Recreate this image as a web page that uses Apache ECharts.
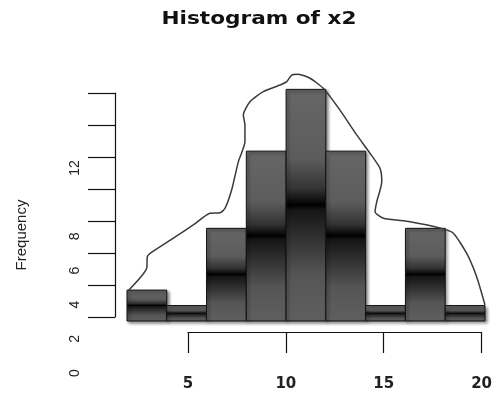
<!DOCTYPE html>
<html>
<head>
<meta charset="utf-8">
<script src="https://cdn.jsdelivr.net/npm/echarts@6/dist/echarts.min.js"></script>
<style>
  html, body { margin: 0; padding: 0; background: #fff; }
  #chart { width: 495px; height: 398px; }
</style>
</head>
<body>
<div id="chart"></div>
<script>
// Histogram bins (break points) and counts per bin
const binEdges = [2, 4, 6, 8, 10, 12, 14, 16, 18, 20];
const counts = [2, 1, 6, 11, 15, 11, 1, 6, 1];

// Overlaid density curve, in frequency units
const curveX = [2.02, 2.99, 3.02, 3.16, 4.33, 5.33, 6.17, 6.68, 6.93, 7.26, 7.60, 7.93, 7.93, 7.85,
  8.18, 8.85, 9.69, 10.03, 10.28, 10.61, 11.20, 11.87, 12.70, 13.55, 14.22, 14.72, 14.81,
  14.56, 14.47, 14.89, 16.23, 17.82, 18.41, 19.08, 19.58, 20.0];
const curveY = [1.90, 3.41, 4.16, 4.38, 5.36, 6.22, 6.98, 7.01, 7.30, 8.48, 10.32, 11.61, 12.69, 13.34,
  14.20, 14.85, 15.28, 15.50, 15.93, 15.98, 15.72, 15.07, 13.67, 12.05, 10.86, 9.89, 9.02,
  7.73, 7.08, 6.65, 6.43, 6.00, 5.68, 4.38, 2.87, 1.04];

// Axis ticks and labels
const xTickValues = [5, 10, 15, 20];
const yTickValues = [0, 2, 4, 6, 8, 10, 12, 14];
const yLabelValues = [0, 2, 4, 6, 8, 12];

const titleText = 'Histogram of x2';
const yAxisTitle = 'Frequency';

const binData = counts.map((c, i) => [binEdges[i], binEdges[i + 1], c]);
const curveData = curveX.map((x, i) => [x, curveY[i]]);

const chart = echarts.init(document.getElementById('chart'), null, { renderer: 'canvas' });

const barFill = new echarts.graphic.LinearGradient(0, 0, 0, 1, [
  { offset: 0, color: '#666666' },
  { offset: 0.3, color: '#5c5c5c' },
  { offset: 0.43, color: '#333333' },
  { offset: 0.5, color: '#000000' },
  { offset: 0.52, color: '#151515' },
  { offset: 0.8, color: '#555555' },
  { offset: 1, color: '#5f5f5f' }
]);

const option = {
  animation: false,
  backgroundColor: '#ffffff',
  graphic: [
    {
      // wide bold heading
      type: 'text',
      x: 259,
      y: 19,
      scaleX: 1.2,
      style: {
        text: titleText,
        fontFamily: 'DejaVu Sans',
        fontWeight: 'bold',
        fontSize: 18,
        fill: '#111',
        textAlign: 'center',
        textVerticalAlign: 'middle'
      }
    },
    {
      type: 'text',
      x: 22,
      y: 235,
      rotation: Math.PI / 2,
      style: {
        text: yAxisTitle,
        fontFamily: 'Liberation Sans',
        fontSize: 15,
        fill: '#222',
        textAlign: 'center',
        textVerticalAlign: 'middle'
      }
    }
  ],
  grid: [
    { left: 127, right: 10, top: 58.5, bottom: 77 },   // histogram area
    { left: 188, right: 10, top: 300, bottom: 66 },    // x axis
    { left: 115, right: 300, top: 93, bottom: 81 },    // y axis line and ticks
    { left: 115, right: 300, top: 168, bottom: 25 }    // y axis labels
  ],
  xAxis: [
    { gridIndex: 0, type: 'value', min: 2, max: 20, show: false },
    {
      gridIndex: 1, type: 'value', min: 5, max: 20, interval: 5,
      axisLine: { lineStyle: { color: '#111', width: 1.2 } },
      axisTick: { length: 21, lineStyle: { color: '#111', width: 1.2 } },
      axisLabel: {
        margin: 45, color: '#222', fontFamily: 'DejaVu Sans', fontWeight: 'bold', fontSize: 15,
        customValues: xTickValues
      },
      splitLine: { show: false }
    },
    { gridIndex: 2, type: 'value', show: false },
    { gridIndex: 3, type: 'value', show: false }
  ],
  yAxis: [
    { gridIndex: 0, type: 'value', min: 0, max: 17, show: false },
    { gridIndex: 1, type: 'value', show: false },
    {
      gridIndex: 2, type: 'value', min: 0, max: 14, interval: 2,
      axisLine: { show: true, lineStyle: { color: '#111', width: 1.2 } },
      axisTick: { show: true, length: 27, lineStyle: { color: '#111', width: 1.2 }, customValues: yTickValues },
      axisLabel: { show: false },
      splitLine: { show: false }
    },
    {
      gridIndex: 3, type: 'value', min: 0, max: 12, interval: 2,
      axisLine: { show: false },
      axisTick: { show: false },
      axisLabel: {
        rotate: 90, margin: 33, color: '#222', fontFamily: 'Liberation Sans', fontSize: 14,
        customValues: yLabelValues,
        formatter: v => (yLabelValues.indexOf(v) >= 0 ? String(v) : '')
      },
      splitLine: { show: false }
    }
  ],
  series: [
    {
      type: 'custom',
      xAxisIndex: 0,
      yAxisIndex: 0,
      data: binData,
      encode: { x: [0, 1], y: 2 },
      z: 2,
      renderItem: (params, api) => {
        const top = api.coord([api.value(0), api.value(2)]);
        const bottom = api.coord([api.value(1), 0]);
        return {
          type: 'rect',
          shape: { x: top[0], y: top[1], width: bottom[0] - top[0], height: bottom[1] - top[1] },
          style: {
            fill: barFill,
            stroke: '#111',
            lineWidth: 1,
            shadowColor: 'rgba(0,0,0,0.45)',
            shadowBlur: 3,
            shadowOffsetX: 2,
            shadowOffsetY: 2
          }
        };
      }
    },
    {
      type: 'line',
      xAxisIndex: 0,
      yAxisIndex: 0,
      data: curveData,
      showSymbol: false,
      smooth: 0.2,
      clip: false,
      z: 5,
      lineStyle: { color: '#3a3a3a', width: 1.5 }
    }
  ]
};

chart.setOption(option);
</script>
</body>
</html>
